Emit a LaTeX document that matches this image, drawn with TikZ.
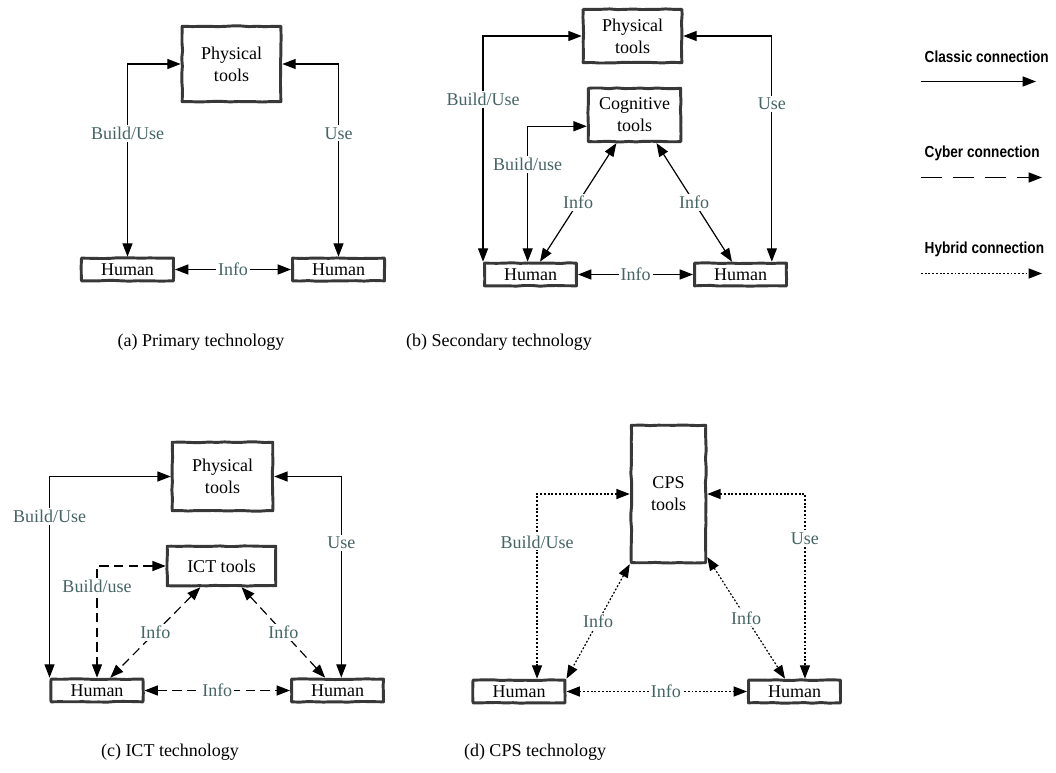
\documentclass[tikz,border=0pt]{standalone}
\usepackage{fontspec}
\setmainfont{Liberation Serif}
\newfontfamily\legendfont[FakeStretch=0.85]{Liberation Sans}
\usetikzlibrary{arrows.meta,calc,decorations.pathmorphing}
\definecolor{boxgray}{RGB}{56,56,56}
\definecolor{labelslate}{RGB}{70,100,100}

\tikzset{
	tool/.style={draw=boxgray, line width=2.2pt, line join=round, align=center, inner sep=0pt,
		font=\fontsize{13.5}{16.5}\selectfont, decorate,
		decoration={random steps, segment length=6pt, amplitude=.3pt}},
	human/.style={tool, minimum width=69pt, minimum height=17pt},
	link/.style={<->, line width=.9pt},
	cyber/.style={link, dash pattern=on 7pt off 4pt},
	hybrid/.style={link, dash pattern=on 1.4pt off 1.4pt},
	lbl/.style={fill=white, text=labelslate, inner sep=1.5pt, font=\fontsize{13.5}{15}\selectfont},
	caption/.style={font=\fontsize{13.5}{15}\selectfont},
	legend/.style={anchor=west, font=\legendfont\bfseries\fontsize{12}{14}\selectfont},
	leg classic/.style={line width=.9pt},
	leg cyber/.style={line width=.9pt, dash pattern=on 15.75pt off 8.25pt},
	leg hybrid/.style={line width=.9pt, dash pattern=on 1.4pt off 1.4pt}
}

\begin{document}
\begin{tikzpicture}[x=0.75pt, y=-0.75pt, >={Triangle[length=10pt,width=7.5pt]}]
	\pgfmathsetseed{7}
	\useasboundingbox (0,0) rectangle (1056,773);
	
	% (a)
	\node [tool, minimum width=74pt, minimum height=56.6pt] (phys-a) at (231.5,64) {Physical\\tools};
	\node [human] (human-a1) at (127.5,269.5) {Human};
	\node [human] (human-a2) at (338.5,269.5) {Human};
	
	\draw [link] (phys-a.west) -| node [lbl, pos=.68] {Build/Use} (human-a1.north);
	\draw [link] (phys-a.east) -| node [lbl, pos=.68] {Use} (human-a2.north);
	\draw [link] (human-a1) -- node [lbl] {Info} (human-a2);
	
	% (b)
	\node [tool, minimum width=74pt, minimum height=40pt] (phys-b) at (632.5,36) {Physical\\tools};
	\node [tool, minimum width=69.4pt, minimum height=40pt] (cog-b) at (634.5,115) {Cognitive\\tools};
	\node [human] (human-b1) at (530.5,274.5) {Human};
	\node [human] (human-b2) at (740.5,274.5) {Human};
	
	\draw [link] (phys-b.west) -| node [lbl, pos=.64] {Build/Use} (human-b1.north west);
	\draw [link] (phys-b.east) -| node [lbl, pos=.65] {Use} ($(human-b2.north west)!.83!(human-b2.north east)$);
	\draw [link] ($(cog-b.north west)!.7!(cog-b.south west)$) -| node [lbl, pos=.64] {Build/use} ($(human-b1.north west)!.47!(human-b1.north east)$);
	\draw [link] ($(cog-b.south west)!.31!(cog-b.south east)$) -- node [lbl] {Info} ($(human-b1.north west)!.6!(human-b1.north east)$);
	\draw [link] ($(cog-b.south west)!.73!(cog-b.south east)$) -- node [lbl] {Info} ($(human-b2.north west)!.41!(human-b2.north east)$);
	\draw [link] (human-b1) -- node [lbl] {Info} (human-b2);
	
	% (c)
	\node [tool, minimum width=75.4pt, minimum height=51.4pt] (phys-c) at (222.5,476.5) {Physical\\tools};
	\node [tool, minimum width=81.4pt, minimum height=29.6pt] (ict-c) at (221.5,566) {ICT tools};
	\node [human] (human-c1) at (97,690.5) {Human};
	\node [human] (human-c2) at (337.5,690.5) {Human};
	
	\draw [link] (phys-c.west) -| node [lbl, pos=.6] {Build/Use} (human-c1.north west);
	\draw [link] (phys-c.east) -| node [lbl, pos=.665] {Use} ($(human-c2.north west)!.54!(human-c2.north east)$);
	\draw [cyber] (ict-c.west) -| node [lbl, pos=.59] {Build/use} (human-c1.north);
	\draw [cyber] ($(ict-c.south west)!.31!(ict-c.south east)$) -- node [lbl] {Info} ($(human-c1.north west)!.64!(human-c1.north east)$);
	\draw [cyber] ($(ict-c.south west)!.68!(ict-c.south east)$) -- node [lbl] {Info} ($(human-c2.north west)!.37!(human-c2.north east)$);
	\draw [cyber] (human-c1) -- node [lbl] {Info} (human-c2);
	
	% (d)
	\node [tool, minimum width=55.9pt, minimum height=103pt] (cps-d) at (668.5,494) {CPS\\tools};
	\node [human] (human-d1) at (519,691.5) {Human};
	\node [human] (human-d2) at (794.5,691.5) {Human};
	
	\draw [hybrid] (cps-d.west) -| node [lbl, pos=.63] {Build/Use} ($(human-d1.north west)!.69!(human-d1.north east)$);
	\draw [hybrid] (cps-d.east) -| node [lbl, pos=.62] {Use} ($(human-d2.north west)!.61!(human-d2.north east)$);
	\draw [hybrid] (cps-d.south west) -- node [lbl] {Info} (human-d1.north east);
	\draw [hybrid] ($(cps-d.north east)!.95!(cps-d.south east)$) -- node [lbl] {Info} ($(human-d2.north west)!.4!(human-d2.north east)$);
	\draw [hybrid] (human-d1) -- node [lbl, pos=.55] {Info} (human-d2);
	
	% captions
	\node [caption] (cap-a) at (201,342) {(a) Primary technology};
	\node [caption] (cap-b) at (499,342) {(b) Secondary technology};
	\node [caption] (cap-c) at (170,752) {(c) ICT technology};
	\node [caption] (cap-d) at (535,752) {(d) CPS technology};
	
	% legend
	\foreach \kind/\txt/\y/\xend in {classic/Classic connection/57/1036, cyber/Cyber connection/153/1042, hybrid/Hybrid connection/249/1042} {
		\node [legend] (leg-\kind) at (920,\y) {\txt};
		\coordinate (leg-\kind-s) at (921,\y+24.5);
		\coordinate (leg-\kind-e) at (\xend,\y+24.5);
		\draw [->, leg \kind] (leg-\kind-s) -- (leg-\kind-e);
	}
\end{tikzpicture}
\end{document}
